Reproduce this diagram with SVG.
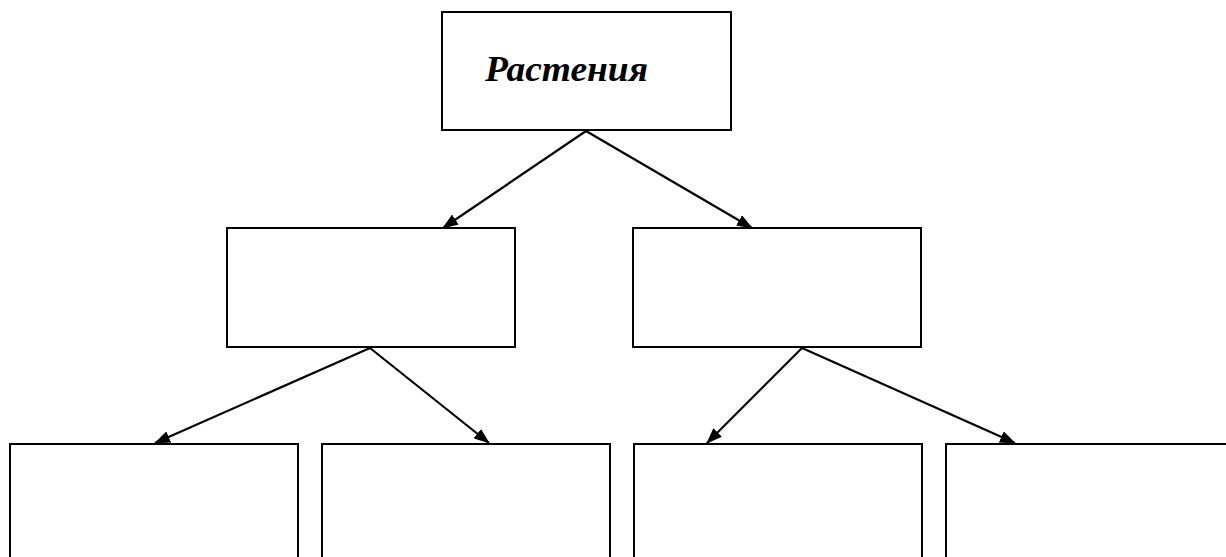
<svg xmlns="http://www.w3.org/2000/svg" width="1226" height="557" viewBox="0 0 1226 557">
<style>
.box{fill:#fff;stroke:#000;stroke-width:2}
.con{stroke:#000;stroke-width:2.2;fill:none;marker-end:url(#ah)}
.t{font-family:"Liberation Serif","Times New Roman",serif;font-weight:bold;font-style:italic;font-size:36px;fill:#000}
</style>
<defs>
<marker id="ah" markerWidth="16" markerHeight="12" refX="15" refY="6" orient="auto" markerUnits="userSpaceOnUse">
<path d="M0,0 L16,6 L0,12 z" fill="#000"/>
</marker>
</defs>
<rect width="1226" height="557" fill="#fff"/>
<g id="connectors">
<line class="con" x1="586" y1="131" x2="443" y2="228"/>
<line class="con" x1="586" y1="131" x2="752" y2="228"/>
<line class="con" x1="370" y1="348" x2="155" y2="443"/>
<line class="con" x1="370" y1="348" x2="489" y2="443"/>
<line class="con" x1="802" y1="348" x2="707" y2="443"/>
<line class="con" x1="802" y1="348" x2="1015" y2="443"/>
</g>
<g id="plants">
<rect class="box" x="442" y="12" width="289" height="118"/>
<text class="t" x="485" y="81" textLength="163" lengthAdjust="spacingAndGlyphs">Растения</text>
</g>
<g id="mid-left"><rect class="box" x="227" y="228" width="288" height="119"/></g>
<g id="mid-right"><rect class="box" x="633" y="228" width="288" height="119"/></g>
<g id="bottom-1"><rect class="box" x="10" y="444" width="288" height="130"/></g>
<g id="bottom-2"><rect class="box" x="322" y="444" width="288" height="130"/></g>
<g id="bottom-3"><rect class="box" x="634" y="444" width="288" height="130"/></g>
<g id="bottom-4"><rect class="box" x="946" y="444" width="300" height="130"/></g>
</svg>
